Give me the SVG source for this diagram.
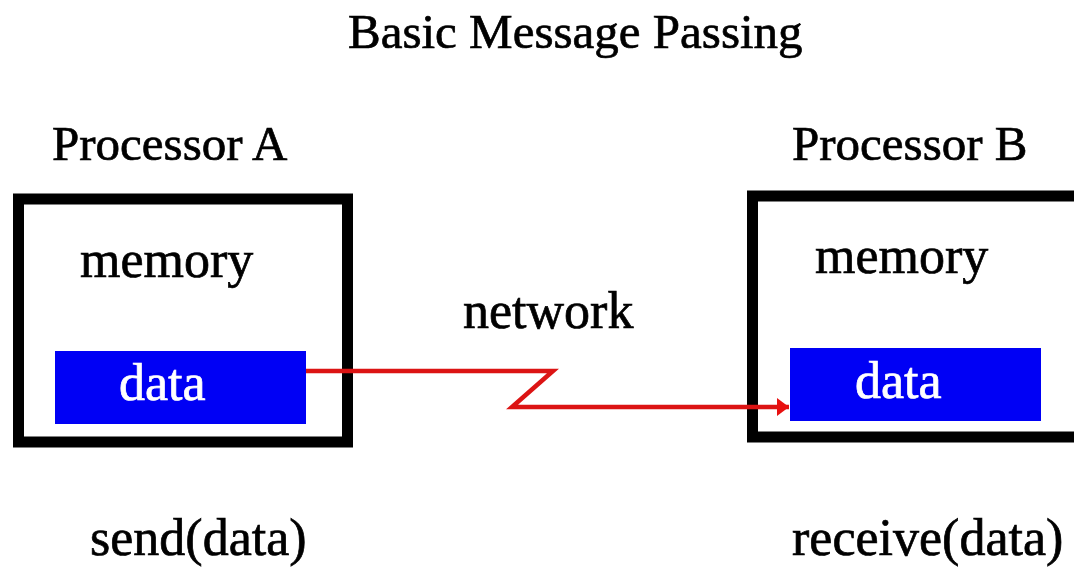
<svg xmlns="http://www.w3.org/2000/svg" width="1074" height="569" viewBox="0 0 1074 569">
  <style>
    text { font-family: "Liberation Serif", "Times New Roman", serif; fill: #000; stroke: #000; stroke-width: 0.7; }
    .cap { font-size: 49px; }
    .low { font-size: 52px; }
    .dat { font-size: 52px; fill: #fff; stroke: #fff; }
    .box { fill: #fff; stroke: #000; stroke-width: 11; }
    .data { fill: #0000f5; }
    .conn { fill: none; stroke: #dc1414; stroke-width: 4.5; }
  </style>
  <defs>
    <marker id="arrow" markerUnits="userSpaceOnUse" markerWidth="14" markerHeight="20" refX="12" refY="9" orient="auto">
      <polygon points="0,0 12,9 0,18" fill="#e81010"/>
    </marker>
  </defs>
  <rect width="1074" height="569" fill="#fff"/>
  <text class="cap" x="348" y="48">Basic Message Passing</text>

  <g id="processorA">
    <text class="cap" x="52" y="160">Processor A</text>
    <rect class="box" x="18.5" y="199" width="329" height="243"/>
    <text class="low" x="80" y="277">memory</text>
    <g id="dataA">
      <rect class="data" x="55" y="351" width="251" height="73"/>
      <text class="dat" x="119" y="400">data</text>
    </g>
    <text class="low" x="90" y="555">send(data)</text>
  </g>

  <g id="processorB">
    <text class="cap" x="792" y="160">Processor B</text>
    <rect class="box" x="752.5" y="196" width="340" height="241"/>
    <text class="low" x="815" y="273">memory</text>
    <g id="dataB">
      <rect class="data" x="790" y="348" width="251" height="73"/>
      <text class="dat" x="855" y="398">data</text>
    </g>
    <text class="low" x="792" y="555">receive(data)</text>
  </g>

  <g id="connectors">
    <path class="conn" d="M306,371 L553,371 L512,407 L789,407" marker-end="url(#arrow)"/>
    <text class="low" x="463" y="328">network</text>
  </g>
</svg>
